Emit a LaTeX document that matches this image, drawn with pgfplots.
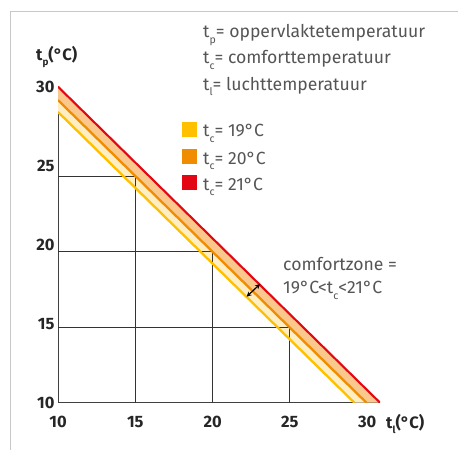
\documentclass[border=0pt]{standalone}
\usepackage{pgfplots}
\pgfplotsset{compat=1.18}
\usepackage{fontspec}
\setmainfont{Fira Sans}

\definecolor{cred}{HTML}{E30613}
\definecolor{corange}{HTML}{F08C00}
\definecolor{cyellow}{HTML}{FFC000}
\definecolor{cpeach}{HTML}{FAC88C}
\definecolor{ccream}{HTML}{FFEDC4}
\definecolor{txtgray}{HTML}{555555}
\definecolor{framegray}{HTML}{C8C8C8}
\definecolor{gridc}{HTML}{333333}

% kleine, lage index (t_p, t_c, t_l)
\newcommand\sub[1]{\raisebox{-0.62ex}{\scalebox{0.6}{#1}}}
\newcommand\lbl{\fontsize{16.5}{18}\selectfont}
\newcommand\txt{\fontsize{17.6}{19}\selectfont\color{txtgray}}

\begin{document}
\begin{tikzpicture}
\path[use as bounding box] (0,0) rectangle (458pt,-450pt);
\draw[framegray, line width=1pt] (10pt,-450pt) -- (10pt,-11pt) -- (458pt,-11pt);

\begin{axis}[
  at={(58pt,-402.7pt)}, anchor=south west,
  x=15.46pt, y=15.8pt,
  xmin=10, xmax=30.83, ymin=10, ymax=30,
  axis x line*=bottom, axis y line*=left,
  axis line style={draw=black!75, line width=1pt},
  xtick={10,15,20,25,30}, ytick={10,15,20,25,30},
  major tick length=0pt,
  /pgf/number format/assume math mode=true,
  ticklabel style={font=\lbl\bfseries, text=black!85},
  xticklabel style={anchor=base, yshift=-24.6pt},
]
% banden
\addplot[fill=cpeach, draw=none, forget plot] coordinates {(10,30) (30.83,10) (29.95,10) (10,29.15)};
\addplot[fill=ccream, draw=none, forget plot] coordinates {(10,29.15) (29.95,10) (29.17,10) (10,28.4)};
% hulplijnen
\addplot[gridc, line width=0.9pt, forget plot] coordinates {(10,24.35) (15,24.35) (15,10)};
\addplot[gridc, line width=0.9pt, forget plot] coordinates {(10,19.55) (20,19.55) (20,10)};
\addplot[gridc, line width=0.9pt, forget plot] coordinates {(10,14.75) (25,14.75) (25,10)};
% comfortlijnen
\addplot[cyellow, line width=2.3pt] coordinates {(10,28.4) (29.17,10)};
\addplot[corange, line width=2.3pt] coordinates {(10,29.15) (29.95,10)};
\addplot[cred, line width=2.1pt] coordinates {(10,30) (30.83,10)};
\draw[<->, >=stealth, line width=1.2pt] (axis cs:22.2,16.71) -- (axis cs:23.07,17.51);
\end{axis}

% aslabels
\node[anchor=base west, inner sep=0, font=\lbl\bfseries, text=black!85] at (36pt,-60pt) {t\sub{p}(°C)};
\node[anchor=base west, inner sep=0, font=\lbl\bfseries, text=black!85] at (386pt,-428pt) {t\sub{l}(°C)};

% verklaring
\node[anchor=base west, inner sep=0, font=\txt] at (203pt,-37.5pt) {t\sub{p}= oppervlaktetemperatuur};
\node[anchor=base west, inner sep=0, font=\txt] at (203pt,-63.5pt) {t\sub{c}= comforttemperatuur};
\node[anchor=base west, inner sep=0, font=\txt] at (203pt,-90pt) {t\sub{l}= luchttemperatuur};

% legenda
\fill[cyellow] (182pt,-136.7pt) rectangle (197pt,-121.7pt);
\fill[corange] (182pt,-164pt) rectangle (197pt,-149pt);
\fill[cred] (182pt,-190pt) rectangle (197pt,-175pt);
\node[anchor=base west, inner sep=0, font=\txt] at (203pt,-136.7pt) {t\sub{c}= 19°C};
\node[anchor=base west, inner sep=0, font=\txt] at (203pt,-164pt) {t\sub{c}= 20°C};
\node[anchor=base west, inner sep=0, font=\txt] at (203pt,-190pt) {t\sub{c}= 21°C};

% comfortzone
\node[anchor=base west, inner sep=0, font=\txt] at (283pt,-270.7pt) {comfortzone =};
\node[anchor=base west, inner sep=0, font=\txt] at (283pt,-293.3pt) {19°C<t\sub{c}<21°C};
\end{tikzpicture}
\end{document}
